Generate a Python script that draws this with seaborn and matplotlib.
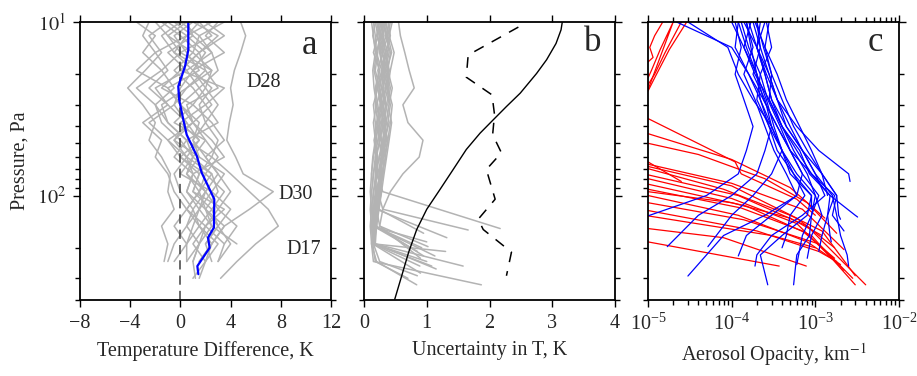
import numpy as np
import pandas as pd
import seaborn as sns
import matplotlib.pyplot as plt
from matplotlib.ticker import LogLocator, NullFormatter, FixedLocator

# ---------------- panel a: temperature difference profiles ----------------
P_A = [10, 12, 15, 19, 24, 30, 38, 48, 60, 75, 95, 120, 150, 190, 240, 300]
temp_diff = [
    [-1.0, -2.5, -1.5, -2.8, -4.2, -3.0, -2.0, -2.5, -1.5, -0.8, -1.0, -0.5, -1.5, -1.0, -1.3],
    [2.0, 3.5, 1.5, 2.0, 0.5, -0.5, -2.5, -1.0, 0.5, -0.5, 0.0, 1.0, 0.5, 1.5, 1.0],
    [-3.5, -2.0, -3.0, -1.5, -3.5, -2.0, -1.0, 0.5, -0.5, 1.0, 0.5, 1.5, 1.0, 0.5, -0.5],
    [0.5, 1.0, 2.5, 3.0, 1.5, 2.5, 1.0, 2.0, 3.0, 2.0, 3.5, 2.5, 3.0, 2.0, 2.5],
    [4.8, 5.2, 4.8, 4.3, 4.0, 4.2, 3.9, 3.7, 4.4, 5.0, 7.4, 5.5, 3.5, 2.5, 1.5],
    [1.5, 0.5, 2.0, 1.0, 2.5, 1.5, 2.0, 3.0, 2.5, 4.0, 5.5, 7.0, 7.8, 6.0, 4.5, 3.2],
    [-2.0, -1.0, 0.0, -1.5, -0.5, -2.0, -1.5, 0.0, 1.0, 0.5, 2.0, 1.5, 2.5, 1.5, 1.0, 1.2],
    [1.0, -0.5, 0.5, 1.5, -1.0, 0.0, 1.5, 1.0, 2.0, 3.0, 2.0, 3.0, 2.0, 3.5, 3.0],
    [3.0, 2.0, 3.5, 1.0, 2.0, 1.0, 2.5, 3.5, 2.0, 3.0, 4.0, 3.0, 4.5, 3.5],
    [-0.5, 1.0, -1.0, 0.5, -2.0, -1.0, 0.5, -0.5, 1.5, 0.5, 1.5, 0.5, 2.0, 1.5, 0.5],
    [0.0, 1.5, 1.0, -0.5, 1.0, 2.0, 0.0, 1.5, 0.0, 1.5, 1.0, 2.5, 1.5, 2.5, 2.0, 1.5],
    [2.5, 0.5, -0.5, 2.0, 3.0, 0.5, 1.0, -0.5, 0.5, 2.5, 1.5, 2.0, 3.0, 2.0],
    [-1.5, 0.0, 1.5, 0.0, -1.5, 1.0, -0.5, 2.0, 1.0, 0.0, 2.5, 1.5, 0.5, -0.5, -1.0],
    [1.5, 2.5, 0.0, 2.5, 0.5, -1.5, -1.0, 0.5, 2.5, 1.5, 1.0, 3.5, 2.0, 1.0, 2.0],
    [-2.5, -3.0, -2.0, -1.0, -2.5, -1.0, -3.0, -1.5, -2.0, -1.0, -0.5, 0.5, -0.5, 0.5],
    [0.5, -1.0, 1.0, 2.5, 2.0, 3.0, 2.0, 1.0, 1.5, 3.5, 2.5, 4.0, 3.0, 4.0, 3.0],
    [3.5, 1.5, 2.5, 0.5, 1.5, 0.0, 1.0, 2.5, 3.5, 1.0, 2.0, 1.0, 1.5, 0.5, 0.5],
    [-1.0, 0.5, -2.0, -3.5, -1.0, 0.0, 1.0, -1.0, 0.0, 2.0, 1.5, 0.5, 1.5, 3.0, 2.0, 1.0],
    [1.0, 3.0, 1.5, 0.0, 3.5, 2.0, 3.0, 0.5, 1.0, 2.5, 3.0, 2.0, 2.5, 4.5],
    [0.0, -1.5, -0.5, 1.0, 0.0, -0.5, 0.5, 1.5, 0.5, 1.0, 0.5, 2.0, 3.5, 2.5, 1.5],
]
mean_p = [10, 14.5, 18, 23.5, 28, 36.5, 44.6, 59, 74, 88, 105, 153, 175, 200, 255, 284]
mean_t = [0.63, 0.63, 0.37, -0.17, -0.1, 0.23, 0.5, 1.3, 1.7, 2.2, 2.7, 2.67, 2.2, 2.33, 1.35, 1.43]
case_labels = ["D28", "D30", "D17"]
case_t = [6.6, 9.2, 9.8]
case_p = [22.4, 99, 204]

# ---------------- panel b: uncertainty ----------------
P_B = [10, 12, 15, 19, 24, 30, 38, 48, 60, 75, 95, 120, 150, 190, 240]
unc = [
    [0.25, 0.20, 0.30, 0.22, 0.28, 0.20, 0.25, 0.18, 0.22, 0.20, 0.30],
    [0.30, 0.35, 0.28, 0.38, 0.30, 0.35, 0.28, 0.32, 0.25, 0.28, 0.22, 0.30],
    [0.18, 0.22, 0.15, 0.25, 0.20, 0.18, 0.22, 0.16, 0.20, 0.15, 0.18, 0.20],
    [0.40, 0.35, 0.42, 0.38, 0.45, 0.40, 0.35, 0.30, 0.35, 0.28, 0.25, 0.20, 0.25],
    [0.22, 0.28, 0.25, 0.30, 0.24, 0.28, 0.30, 0.26, 0.18, 0.22, 0.15, 0.12, 0.15],
    [0.35, 0.30, 0.38, 0.32, 0.28, 0.35, 0.40, 0.33, 0.28, 0.25, 0.22, 0.18, 0.20],
    [0.15, 0.18, 0.20, 0.16, 0.22, 0.15, 0.18, 0.20, 0.15, 0.12, 0.15, 0.14, 0.16],
    [0.28, 0.32, 0.26, 0.30, 0.35, 0.30, 0.24, 0.28, 0.30, 0.25, 0.20, 0.15, 0.12, 0.15],
    [0.20, 0.25, 0.22, 0.18, 0.25, 0.28, 0.22, 0.25, 0.20, 0.18, 0.20, 0.16, 0.14, 0.18],
    [0.32, 0.28, 0.35, 0.30, 0.25, 0.30, 0.35, 0.30, 0.24, 0.20, 0.18, 0.15, 0.12, 0.14],
    [0.38, 0.42, 0.35, 0.40, 0.36, 0.42, 0.38, 0.34, 0.30, 0.26, 0.22, 0.18, 0.15, 0.12, 0.15],
    [0.12, 0.15, 0.18, 0.14, 0.16, 0.20, 0.15, 0.18, 0.14, 0.12, 0.10, 0.12, 0.10, 0.12, 0.20],
    [0.30, 0.25, 0.32, 0.40, 0.34, 0.30, 0.36, 0.30, 0.25, 0.30, 0.25, 0.20, 0.18, 0.15, 0.25],
    [0.55, 0.58, 0.65, 0.72, 0.80, 0.62, 0.70, 0.94, 0.88, 0.62, 0.42, 0.30, 0.25],
    [0.45, 0.40, 0.48, 0.42, 0.38, 0.45, 0.42, 0.38, 0.32, 0.30, 0.25, 0.22, 0.20, 0.16],
    [0.26, 0.30, 0.34, 0.28, 0.32, 0.26, 0.30, 0.34, 0.28, 0.24, 0.28, 0.22, 0.18, 0.16],
    [0.35, 0.38, 0.30, 0.34, 0.40, 0.36, 0.32, 0.38, 0.34, 0.30, 0.26, 0.24, 0.20, 0.18],
    [0.18, 0.14, 0.20, 0.24, 0.18, 0.22, 0.26, 0.22, 0.18, 0.15, 0.12, 0.10, 0.12],
    [0.42, 0.38, 0.44, 0.36, 0.42, 0.38, 0.44, 0.40, 0.36, 0.32, 0.28, 0.24],
    [0.22, 0.26, 0.20, 0.28, 0.22, 0.26, 0.20, 0.24, 0.28, 0.22, 0.26, 0.20, 0.16, 0.14, 0.18],
    [0.28, 0.22, 0.26, 0.32, 0.38, 0.32, 0.28, 0.24, 0.30, 0.26, 0.20, 0.18, 0.15],
    [0.32, 0.36, 0.40, 0.34, 0.30, 0.26, 0.32, 0.36, 0.30, 0.26, 0.24, 0.20, 0.16, 0.14],
]
unc_end_u = [2.17, 1.66, 1.32, 1.02, 1.13, 0.95, 0.92, 1.08, 1.58, 0.89, 1.87, 0.84,
             0.85, 0.90, 1.00, 1.30, 1.15, 1.00, 0.95, 0.70, 0.85, 0.90]
unc_end_p = [155, 158, 175, 197, 223, 223, 200, 255, 255, 255, 327, 327,
             290, 230, 240, 210, 265, 185, 165, 300, 210, 280]

solid_p = [10, 11.1, 13.3, 16.5, 19.8, 25.7, 30.7, 36.6, 43.7, 54.3, 70.9, 92.4,
           120, 157, 213, 291, 396]
solid_u = [3.16, 3.14, 3.06, 2.91, 2.75, 2.49, 2.27, 2.06, 1.85, 1.63, 1.42, 1.21,
           1.00, 0.84, 0.71, 0.60, 0.49]
dash_p = [10.7, 15.5, 20.8, 26.3, 34.2, 44.6, 56.7, 70.8, 105, 137, 157, 212, 290]
dash_u = [2.46, 1.66, 1.63, 2.04, 2.08, 2.05, 2.19, 1.95, 2.09, 1.82, 1.90, 2.35, 2.27]

# ---------------- panel c: aerosol opacity (units of 1e-4 km^-1) ----------------
P_C = [10, 14, 20, 28, 40, 55, 75, 100, 130, 170, 220]
blue_op = [
    [1.1, 1.3, 1.1, 1.4, 1.8, 1.5, 1.2, 0.5],
    [2.0, 2.2, 1.8, 2.5, 3.0, 2.5, 2.0, 1.0, 0.4],
    [0.22, 1.0, 1.6, 2.4, 3.5, 5.0, 7.0, 6.0, 2.5, 0.8],
    [1.3, 1.6, 2.2, 2.0, 2.8, 4.0, 3.0, 1.8, 1.0],
    [1.5, 1.8, 1.4, 1.9, 2.5, 3.2, 4.5, 6.0, 3.0, 1.5],
    [2.5, 2.0, 2.8, 3.5, 4.5, 7.0, 10.0, 13.0, 7.0, 3.0, 2.0],
    [1.2, 1.5, 2.0, 2.6, 3.2, 4.0, 5.5, 9.0, 8.0, 4.0, 2.2],
    [2.8, 2.5, 3.0, 2.8, 4.0, 5.5, 8.0, 10.0, 9.0, 8.5, 6.0],
    [1.8, 2.2, 2.8, 3.5, 5.0, 7.0, 10.0, 16.0, 18.0, 20.0, 24.0],
    [1.6, 2.0, 2.5, 3.0, 4.0, 6.0, 9.0, 15.0, 30.0],
    [1.4, 2.0, 2.6, 3.5, 6.0, 11.0, 25.0],
    [2.2, 2.0, 2.5, 3.0, 4.5, 7.0, 12.0, 18.0, 19.0],
    [1.0, 1.4, 2.0, 2.4, 3.5, 5.0, 9.0, 17.0, 14.0, 12.0],
    [0.3, 0.9, 1.2, 1.8, 3.0, 4.0, 6.0, 10.0, 12.0, 9.0],
    [1.7, 1.4, 1.9, 2.8, 4.0, 6.5, 8.5, 15.0, 14.0, 15.0],
    [2.6, 3.0, 2.2, 2.7, 3.8, 5.0, 7.0, 11.0, 9.0, 7.0],
    [1.2, 1.1, 1.6, 2.2, 2.8, 3.5, 5.5, 7.5, 5.0, 4.5],
    [2.0, 2.4, 3.0, 4.0, 5.5, 8.0, 12.0, 18.0, 16.0],
    [1.5, 1.7, 2.0, 2.2, 3.0, 4.0, 5.0, 9.0],
    [1.9, 2.5, 3.5, 4.5, 6.5, 9.0, 12.0],
]
blue_end_op = [0.1, 0.17, 0.3, 0.52, 1.2, 1.9, 2.7, 5.5, 25, 32, 26, 20, 11, 8, 15.5, 6, 4, 22, 9, 14]
blue_end_p = [131, 197, 291, 197, 223, 255, 327, 327, 255, 133, 83, 137, 210, 230, 185, 250, 200, 160, 120, 100]

red_op = [
    [0.1, 0.2, 0.14, 0.11, 0.1],
    [0.29, 0.18, 0.12, 0.1],
    [0.15, 0.12, 0.105, 0.115, 0.1],
    [0.25, 0.16, 0.12, 0.1],
    [0.1, 1.1, 1.3, 6.0, 10.0],
    [0.1, 1.0, 5.0, 13.0],
    [0.1, 0.4, 2.5, 8.0, 18.0],
    [0.1, 0.25],
    [0.1, 1.0, 7.0, 22.0],
    [0.1, 1.0, 6.0, 17.0],
    [0.1, 0.8, 5.0, 12.0, 30.0],
    [0.1, 1.2, 8.0, 40.0],
    [0.1, 1.0, 6.0, 22.0],
    [0.1, 1.5, 9.0, 30.0],
    [0.1, 1.3, 7.0, 17.0],
    [0.1, 1.2, 8.0, 20.0],
    [0.1, 1.4, 11.0, 28.0],
    [0.1, 2.0, 11.0, 18.0],
    [0.1, 3.0, 10.0],
    [0.1, 0.8, 7.8],
    [0.1, 3.7],
    [0.1, 1.0, 5.0, 12.0],
]
red_p = [
    [24.6, 10, 14.4, 19, 21],
    [10, 14.4, 21, 25],
    [10, 12, 14, 16, 17],
    [10, 15, 20, 23],
    [36, 64, 75, 105, 130],
    [44, 62, 90, 135],
    [50, 58, 80, 110, 165],
    [64, 83],
    [66, 85, 120, 205],
    [68, 88, 135, 200],
    [70, 92, 130, 160, 290],
    [76, 100, 150, 327],
    [80, 104, 145, 270],
    [86, 115, 170, 327],
    [92, 118, 160, 230],
    [100, 130, 185, 250],
    [110, 138, 190, 300],
    [122, 160, 210, 240],
    [131, 170, 200],
    [155, 175, 255],
    [185, 255],
    [95, 110, 135, 170],
]

FS = 14.5


def profiles_frame(values, grid, end_x=None, end_p=None, scale=1.0):
    rows = []
    for i, vals in enumerate(values):
        for v, p in zip(vals, grid):
            rows.append((i, v * scale, p))
        if end_x is not None:
            rows.append((i, end_x[i] * scale, end_p[i]))
    return pd.DataFrame(rows, columns=["profile", "x", "p"])


def pairs_frame(xs, ps, scale=1.0):
    rows = []
    for i, (xv, pv) in enumerate(zip(xs, ps)):
        for v, p in zip(xv, pv):
            rows.append((i, v * scale, p))
    return pd.DataFrame(rows, columns=["profile", "x", "p"])


def style_axis(ax):
    ax.set_yscale("log")
    ax.set_ylim(400, 10)
    ax.yaxis.set_major_locator(FixedLocator([10, 100]))
    ax.yaxis.set_minor_locator(LogLocator(base=10, subs=np.arange(2, 10)))
    ax.yaxis.set_minor_formatter(NullFormatter())
    ax.tick_params(which="both", direction="out", top=True, right=True,
                   labeltop=False, labelright=False, width=1.0, color="black",
                   labelsize=FS, pad=5)
    ax.tick_params(which="major", length=5)
    ax.tick_params(which="minor", length=3.5)
    for s in ax.spines.values():
        s.set_linewidth(1.3)
        s.set_color("black")
    ax.set_ylabel("")


def main():
    sns.set_style("ticks")
    plt.rcParams["font.family"] = ["Liberation Serif", "DejaVu Serif"]
    plt.rcParams["mathtext.fontset"] = "stix"

    fig = plt.figure(figsize=(9.17, 3.76), dpi=100)
    ax_a = fig.add_axes([80 / 917, 1 - 300 / 376, 251 / 917, 278 / 376])
    ax_b = fig.add_axes([364 / 917, 1 - 300 / 376, 251 / 917, 278 / 376])
    ax_c = fig.add_axes([648 / 917, 1 - 300 / 376, 251 / 917, 278 / 376])

    gray = "#b3b3b3"

    # panel a
    df_a = profiles_frame(temp_diff, P_A)
    sns.lineplot(data=df_a, x="x", y="p", units="profile", estimator=None, sort=False,
                 color=gray, lw=1.1, ax=ax_a, legend=False)
    ax_a.axvline(0, color="#404040", lw=1.1, ls=(0, (6, 4)))
    sns.lineplot(x=mean_t, y=mean_p, sort=False, estimator=None, color="#0000ff",
                 lw=1.6, ax=ax_a)
    style_axis(ax_a)
    ax_a.set_xlim(-8, 12)
    ax_a.set_xticks([-8, -4, 0, 4, 8, 12])
    ax_a.set_yticks([10, 100])
    ax_a.set_yticklabels([r"$10^{1}$", r"$10^{2}$"])
    ax_a.set_ylabel("Pressure, Pa", fontsize=FS, labelpad=5)
    ax_a.set_xlabel("Temperature Difference, K", fontsize=FS, labelpad=6)
    for lab, t, p in zip(case_labels, case_t, case_p):
        ax_a.text(t, p, lab, fontsize=FS, ha="center", va="center")
    ax_a.text(0.915, 0.915, "a", transform=ax_a.transAxes, fontsize=25,
              ha="center", va="center")

    # panel b
    df_b = profiles_frame(unc, P_B, unc_end_u, unc_end_p)
    sns.lineplot(data=df_b, x="x", y="p", units="profile", estimator=None, sort=False,
                 color=gray, lw=1.1, ax=ax_b, legend=False)
    sns.lineplot(x=solid_u, y=solid_p, sort=False, estimator=None, color="black",
                 lw=1.0, ax=ax_b)
    sns.lineplot(x=dash_u, y=dash_p, sort=False, estimator=None, color="black",
                 lw=1.1, ls=(0, (7, 6)), ax=ax_b)
    style_axis(ax_b)
    ax_b.set_xlim(0, 4)
    ax_b.set_xticks([0, 1, 2, 3, 4])
    ax_b.set_yticks([10, 100])
    ax_b.set_yticklabels(["", ""])
    ax_b.set_xlabel("Uncertainty in T, K", fontsize=FS, labelpad=6)
    ax_b.text(0.912, 0.925, "b", transform=ax_b.transAxes, fontsize=25,
              ha="center", va="center")

    # panel c
    ax_c.set_xscale("log")
    df_blue = profiles_frame(blue_op, P_C, blue_end_op, blue_end_p, scale=1e-4)
    df_red = pairs_frame(red_op, red_p, scale=1e-4)
    sns.lineplot(data=df_red, x="x", y="p", units="profile", estimator=None, sort=False,
                 color="#ff0000", lw=0.9, ax=ax_c, legend=False)
    sns.lineplot(data=df_blue, x="x", y="p", units="profile", estimator=None, sort=False,
                 color="#0000ff", lw=0.9, ax=ax_c, legend=False)
    style_axis(ax_c)
    ax_c.set_xlim(1e-5, 1e-2)
    ax_c.xaxis.set_major_locator(LogLocator(base=10, numticks=10))
    ax_c.xaxis.set_minor_locator(LogLocator(base=10, subs=np.arange(2, 10), numticks=20))
    ax_c.xaxis.set_minor_formatter(NullFormatter())
    ax_c.set_yticks([10, 100])
    ax_c.set_yticklabels(["", ""])
    ax_c.set_xlabel(r"Aerosol Opacity, km$^{-1}$", fontsize=FS, labelpad=4)
    ax_c.text(0.904, 0.925, "c", transform=ax_c.transAxes, fontsize=25,
              ha="center", va="center")

    fig.savefig("out.png", dpi=100)


if __name__ == "__main__":
    main()
